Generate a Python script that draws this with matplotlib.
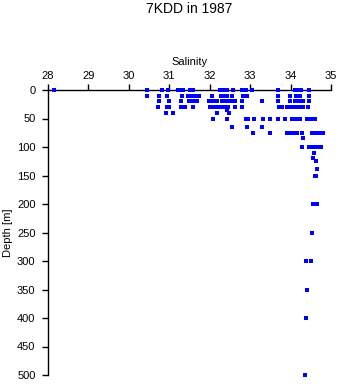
import matplotlib
matplotlib.use("Agg")
import matplotlib.pyplot as plt

# salinity values observed at each depth level
depths = [0, 10, 20, 30, 35, 40, 50, 65, 75, 85, 100, 110, 120, 125, 138, 150, 200, 250, 300, 350, 400, 500]
salinity = [
    [28.15, 30.45, 30.82, 30.97, 31.22, 31.26, 31.29, 31.34, 31.51, 31.56, 31.59, 32.25, 32.30, 32.35,
     32.40, 32.43, 32.58, 32.80, 32.85, 32.90, 33.05, 33.69, 34.11, 34.16, 34.21, 34.26, 34.46],
    [30.45, 30.75, 30.94, 31.31, 31.46, 31.51, 31.56, 31.64, 31.73, 32.06, 32.28, 32.33, 32.38, 32.43,
     32.55, 32.82, 32.87, 32.92, 33.69, 33.99, 34.13, 34.18, 34.23, 34.46],
    [30.75, 30.99, 31.29, 31.49, 31.59, 31.64, 31.69, 31.98, 32.03, 32.08, 32.18, 32.30, 32.35, 32.40,
     32.45, 32.53, 32.63, 32.80, 33.29, 33.69, 33.99, 34.11, 34.16, 34.21, 34.26, 34.31, 34.46],
    [30.72, 30.94, 30.99, 31.29, 31.34, 31.39, 31.59, 32.01, 32.06, 32.11, 32.16, 32.21, 32.26, 32.31,
     32.36, 32.40, 32.45, 32.63, 32.80, 33.71, 33.74, 33.79, 33.91, 33.96, 34.06, 34.11, 34.21, 34.26,
     34.31, 34.43],
    [32.43],
    [30.92, 31.09, 32.18, 32.48],
    [32.08, 32.43, 32.90, 32.95, 33.10, 33.32, 33.49, 33.69, 33.86, 34.04, 34.13, 34.23, 34.41, 34.46,
     34.51, 34.56, 34.61],
    [32.55, 32.92, 33.29],
    [33.07, 33.49, 33.91, 33.96, 34.01, 34.06, 34.16, 34.28, 34.53, 34.58, 34.63, 34.68, 34.73, 34.80],
    [34.31],
    [34.28, 34.46, 34.51, 34.56, 34.61, 34.66, 34.70, 34.75],
    [34.58],
    [34.56],
    [34.63],
    [34.65],
    [34.60, 34.63],
    [34.56, 34.60, 34.65],
    [34.53],
    [34.38, 34.50],
    [34.41],
    [34.38],
    [34.36],
]
xticks = [28, 29, 30, 31, 32, 33, 34, 35]
yticks = [0, 50, 100, 150, 200, 250, 300, 350, 400, 450, 500]

plt.rcParams['font.family'] = ['Liberation Sans', 'DejaVu Sans']

fig = plt.figure(figsize=(3.41, 3.84), dpi=100)
ax = fig.add_axes([48/341, 1 - 375/384, 283/341, 285/384])

xs, ys = [], []
for d, svals in zip(depths, salinity):
    for s in svals:
        xs.append(s)
        ys.append(d)
ax.plot(xs, ys, linestyle='none', marker='s', markersize=2.3, color='#0000ff',
        markeredgewidth=0, clip_on=False, zorder=3)

ax.set_xlim(28, 35)
ax.set_ylim(500, 0)
ax.xaxis.set_ticks_position('top')
ax.xaxis.set_label_position('top')
ax.set_xticks(xticks)
ax.set_yticks(yticks)
ax.spines['right'].set_visible(False)
ax.spines['bottom'].set_visible(False)
for sp in ('top', 'left'):
    ax.spines[sp].set_linewidth(1.0)
ax.tick_params(axis='x', direction='out', length=4, width=1, pad=2.5, labelsize=8)
ax.tick_params(axis='y', direction='out', length=4, width=1, pad=5, labelsize=8)
ax.set_xlabel('Salinity', fontsize=8, labelpad=4.5)
ax.set_ylabel('Depth [m]', fontsize=8, labelpad=3)
fig.text((48 + 331) / 2 / 341, 1 - 9/384, '7KDD in 1987', ha='center', va='center', fontsize=10)

fig.savefig('out.png', dpi=100)
